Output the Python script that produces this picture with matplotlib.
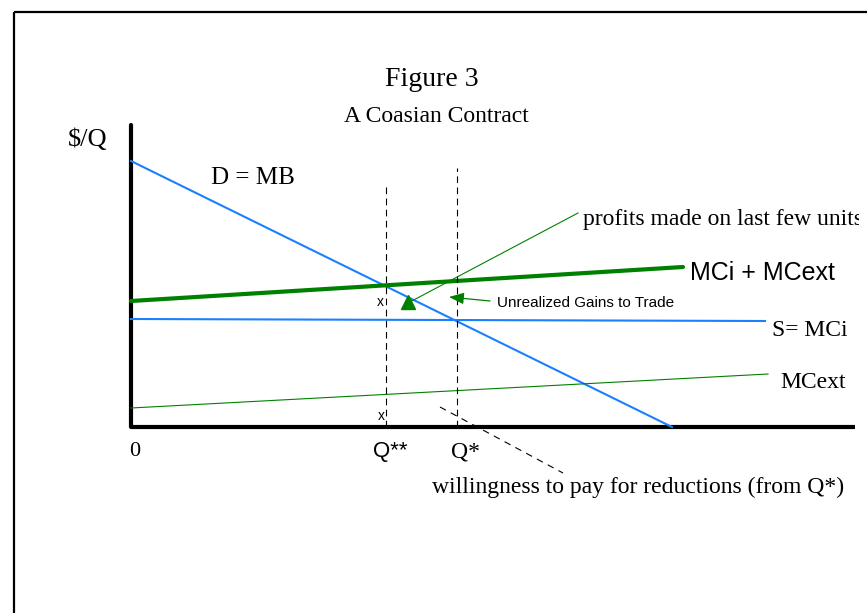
import matplotlib
matplotlib.use("Agg")
import matplotlib.pyplot as plt
from matplotlib.transforms import Bbox, TransformedBbox

# quantities / prices measured from the origin of the diagram
D_Q = [0, 541]
D_P = [266, 0]
MC_tot_Q = [0, 552]
MC_tot_P = [126, 160]
MCi_Q = [0, 634]
MCi_P = [108, 106]
MCext_Q = [0, 637]
MCext_P = [19, 53]
Q_2star = 255
Q_star = 326
Q_2star_top = 244
Q_star_top = 259
profit_Q = [277, 447]
profit_P = [124, 214]
gains_from = (359, 126)
gains_to = (318, 130)
wtp_Q = [309, 432]
wtp_P = [20, -46]

blue = "#1a80ff"
green = "#008000"
serif = "Liberation Serif"
sans = "Liberation Sans"

fig = plt.figure(figsize=(8.67, 6.13), dpi=100)
ax = fig.add_axes([0, 0, 1, 1])
ax.set_xlim(-131, 736)
ax.set_ylim(-186, 427)
ax.axis("off")

# outer frame (left and top only)
ax.plot([-117, -117], [-186, 415], color="black", lw=1.6, solid_capstyle="butt")
ax.plot([-117, 736], [415, 415], color="black", lw=1.6, solid_capstyle="butt")

# axes of the diagram
ax.plot([0, 0], [0, 302], color="black", lw=3, solid_capstyle="round")
ax.plot([0, 724], [0, 0], color="black", lw=3, solid_capstyle="butt")

# curves
ax.plot(D_Q, D_P, color=blue, lw=1.5)
ax.plot(MC_tot_Q, MC_tot_P, color=green, lw=3, solid_capstyle="round")
ax.plot(MCi_Q, MCi_P, color=blue, lw=1.5)
ax.plot(MCext_Q, MCext_P, color=green, lw=0.8)

# dashed quantity markers
ax.plot([Q_2star, Q_2star], [0, Q_2star_top], color="black", lw=0.8, ls=(0, (6, 4)))
ax.plot([Q_star, Q_star], [0, Q_star_top], color="black", lw=0.8, ls=(0, (6, 4)))
ax.plot(wtp_Q, wtp_P, color="black", lw=0.8, ls=(0, (6, 5)))

# profits pointer
ax.plot(profit_Q, profit_P, color=green, lw=0.8)
ax.plot(profit_Q[0], profit_P[0] + 1, marker="^", color=green, ms=10)

# unrealized gains arrow
ax.annotate("", xy=gains_to, xytext=gains_from,
            arrowprops=dict(arrowstyle="-|>,head_length=0.9,head_width=0.35",
                            color=green, lw=0.9, shrinkA=0, shrinkB=0))

# labels
ax.text(301, 347, "Figure 3", family=serif, fontsize=20, ha="center", va="center")
ax.text(305, 310, "A Coasian Contract", family=serif, fontsize=17, ha="center", va="center")
ax.text(-43, 287, "$/Q", family=serif, fontsize=19, ha="center", va="center")
ax.text(80, 249, "D = MB", family=serif, fontsize=18, ha="left", va="center")
t = ax.text(452, 207, "profits made on last few units", family=serif, fontsize=17,
            ha="left", va="center", clip_on=True)
t.set_clip_box(TransformedBbox(Bbox([[-131, -186], [728, 427]]), ax.transData))
ax.text(559, 154, "MCi + MCext", family=sans, fontsize=18, ha="left", va="center")
ax.text(249, 125, "x", family=sans, fontsize=10, ha="center", va="center")
ax.text(250, 11, "x", family=sans, fontsize=10, ha="center", va="center")
ax.text(366, 124, "Unrealized Gains to Trade", family=sans, fontsize=11,
        ha="left", va="center")
ax.text(641, 97, "S= MCi", family=serif, fontsize=17, ha="left", va="center")
ax.text(649, 44, "MCext", family=serif, fontsize=17, ha="left", va="center")
ax.text(4, -24, "0", family=serif, fontsize=16, ha="center", va="center")
ax.text(259, -25, "Q**", family=sans, fontsize=16, ha="center", va="center")
ax.text(335, -25, "Q*", family=serif, fontsize=17, ha="center", va="center")
ax.text(301, -60, "willingness to pay for reductions (from Q*)", family=serif,
        fontsize=17, ha="left", va="center")

fig.savefig("out.png", dpi=100)
